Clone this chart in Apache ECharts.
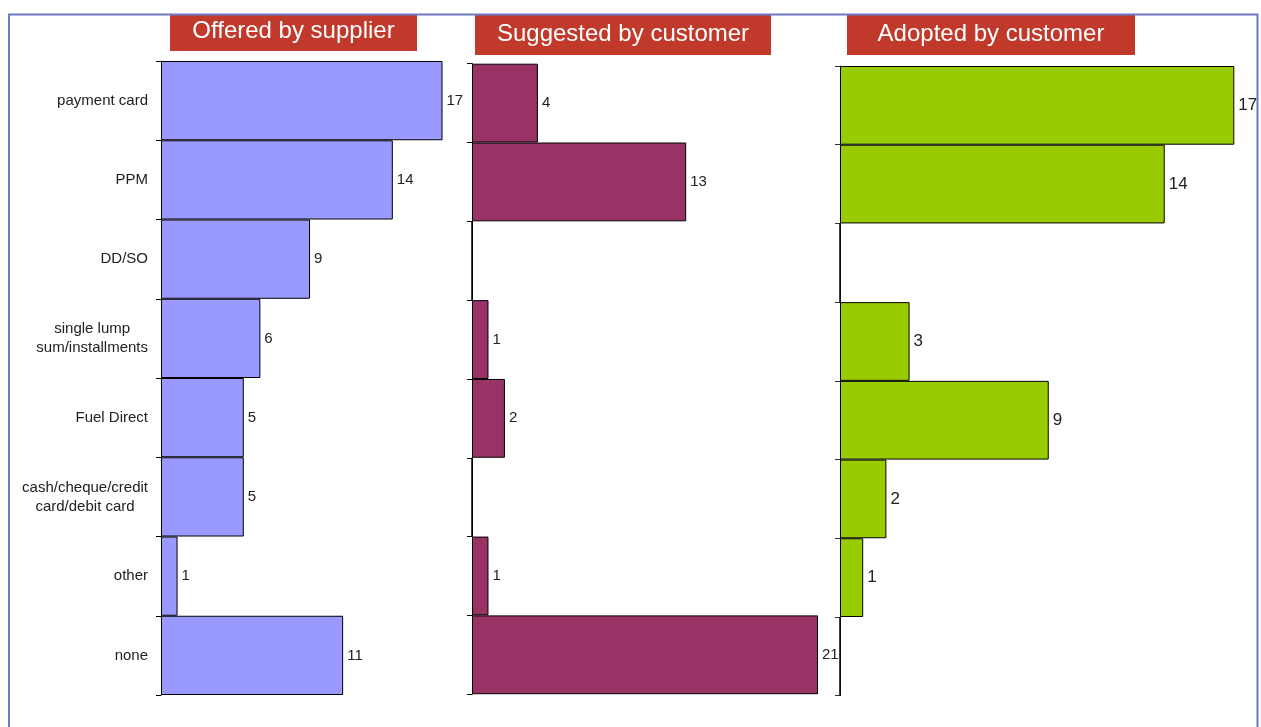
<!DOCTYPE html>
<html>
<head>
<meta charset="utf-8">
<script src="https://cdn.jsdelivr.net/npm/echarts@6/dist/echarts.min.js"></script>
<style>
html,body{margin:0;padding:0;background:#fff;}
#chart{width:1261px;height:727px;}
</style>
</head>
<body>
<div id="chart"></div>
<script>
const categories = ['payment card','PPM','DD/SO','single lump\nsum/installments','Fuel Direct','cash/cheque/credit\ncard/debit card','other','none'];
const offeredBySupplier = [17,14,9,6,5,5,1,11];
const suggestedByCustomer = [4,13,0,1,2,0,1,21];
const adoptedByCustomer = [17,14,0,3,9,2,1,0];
const panelTitles = ['Offered by supplier','Suggested by customer','Adopted by customer'];

const FONT = 'Arial, "Liberation Sans", sans-serif';
const chart = echarts.init(document.getElementById('chart'), null, {renderer:'canvas'});

const grids = [
  {left:161, top:61, width:281.5, height:634},
  {left:472, top:63.7, width:346, height:630.5},
  {left:840, top:66, width:394.3, height:629.7}
];
const maxes = [17,21,17];
const colors = ['#9999ff','#993366','#99cc00'];
const labelSizes = [15,15,17];
const datasets = [offeredBySupplier, suggestedByCustomer, adoptedByCustomer];

const titleBoxes = [
  {x:170, y:15, w:247, h:36, cx:293.5, cy:31},
  {x:475, y:15, w:296, h:40, cx:623, cy:34},
  {x:847, y:15, w:288, h:40, cx:991, cy:34.5}
];

const option = {
  animation:false,
  backgroundColor:'#ffffff',
  grid: grids.map(g => Object.assign({containLabel:false, outerBoundsMode:'none'}, g)),
  xAxis: grids.map((g,i) => ({
    gridIndex:i, type:'value', min:0, max:maxes[i], show:false
  })),
  yAxis: grids.map((g,i) => ({
    gridIndex:i, type:'category', inverse:true, data:categories, boundaryGap:true,
    axisLine:{show:true, lineStyle:{color:i===2?'#333':'#000', width:1}},
    axisTick:{show:true, length:5, lineStyle:{color:i===2?'#333':'#000'}},
    splitLine:{show:false},
    axisLabel: i===0 ? {
      show:true, margin:13, fontSize:15, color:'#222', fontFamily:FONT,
      formatter: v => v.split('\n').map(s => '{c|' + s + '}').join('\n'),
      rich:{c:{align:'center', fontSize:15, color:'#222', fontFamily:FONT, lineHeight:19}}
    } : {show:false}
  })),
  series: datasets.map((d,i) => ({
    type:'bar', xAxisIndex:i, yAxisIndex:i, data:d,
    barCategoryGap:'0%',
    itemStyle:{color:colors[i], borderColor:'#000', borderWidth:1},
    label:{show:true, position:'right', distance:4, fontSize:labelSizes[i], color:'#222', fontFamily:FONT,
      formatter: p => p.value === 0 ? '' : String(p.value)}
  })),
  graphic: [
    {type:'rect', shape:{x:9, y:14.5, width:1248.5, height:800}, style:{fill:'none', stroke:'#6d79c2', lineWidth:2}, z:100}
  ].concat(titleBoxes.map((b,i) => ({
    type:'group', children:[
      {type:'rect', shape:{x:b.x, y:b.y, width:b.w, height:b.h}, style:{fill:'#c0392b'}},
      {type:'text', x:b.cx, y:b.cy, style:{text:panelTitles[i], fill:'#fff', font:'24px ' + FONT, align:'center', verticalAlign:'middle'}}
    ]
  })))
};
chart.setOption(option);
</script>
</body>
</html>
